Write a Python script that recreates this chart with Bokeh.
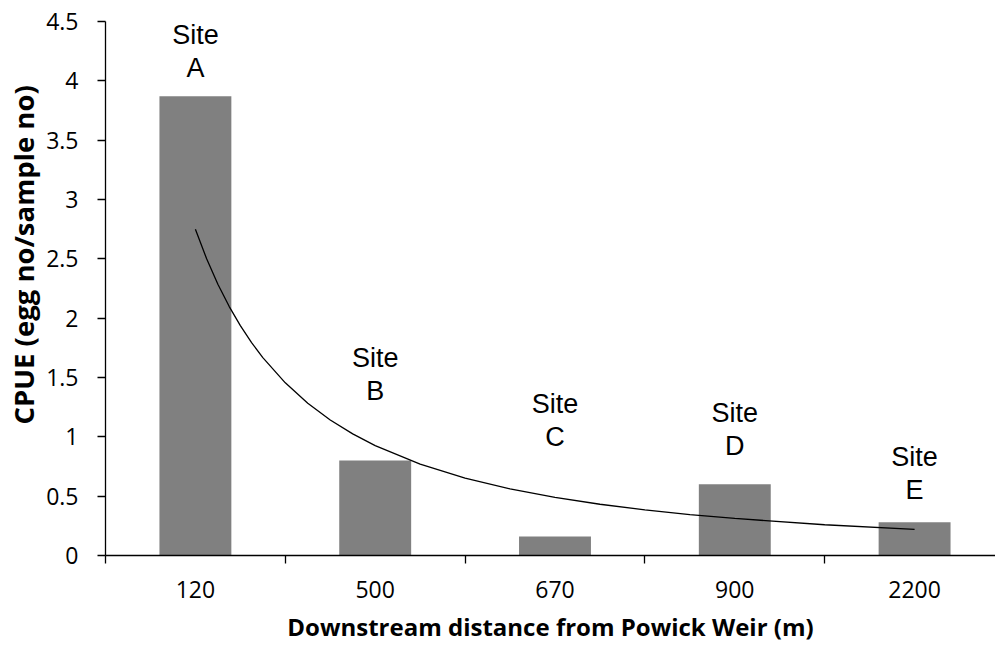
from bokeh.plotting import figure
from bokeh.models import Range1d, FixedTicker, Title
from bokeh.core.properties import value
from bokeh.embed import file_html
from bokeh.resources import INLINE

# ---- data ----
distances = ["120", "500", "670", "900", "2200"]
sites = ["A", "B", "C", "D", "E"]
cpue = [3.87, 0.80, 0.16, 0.60, 0.28]

# power trendline (x in category units, 1 = first bar)
trend_t = [1.0, 1.0625, 1.125, 1.1875, 1.25, 1.3125, 1.375, 1.5, 1.625, 1.75, 1.875,
           2.0, 2.25, 2.5, 2.75, 3.0, 3.25, 3.5, 3.75, 4.0, 4.5, 5.0]
trend_y = [2.75, 2.500, 2.286, 2.100, 1.937, 1.794, 1.668, 1.455, 1.283, 1.142, 1.025,
           0.926, 0.770, 0.653, 0.562, 0.490, 0.432, 0.385, 0.345, 0.312, 0.259, 0.220]

# vertical centre of the site letter in each label (hand-placed annotations)
label_y = [4.11, 1.39, 1.00, 0.925, 0.555]

yticks = [0, 0.5, 1, 1.5, 2, 2.5, 3, 3.5, 4, 4.5]

# ---- positions ----
xc = [i + 0.5 for i in range(len(distances))]
trend_x = [t - 0.5 for t in trend_t]

p = figure(width=995, height=645, output_backend="svg", toolbar_location=None,
           x_range=Range1d(0, 4.95), y_range=Range1d(0, 4.5),
           min_border_left=104, min_border_right=0, min_border_top=21, min_border_bottom=89)
p.outline_line_color = None
p.grid.grid_line_color = None
p.background_fill_color = "white"
p.border_fill_color = "white"

p.vbar(x=xc, top=cpue, width=0.4, fill_color="#808080", line_color=None)
p.line(trend_x, trend_y, line_color="black", line_width=1.3)

p.text(x=xc, y=label_y, text=sites, text_align="center", text_baseline="middle",
       text_font=value("Liberation Sans"), text_font_size="27px", text_color="black")
p.text(x=xc, y=label_y, text=["Site"] * len(sites), y_offset=-33, text_align="center",
       text_baseline="middle", text_font=value("Liberation Sans"), text_font_size="27px",
       text_color="black")

# x axis: labels at category centres, ticks at category boundaries
xa = p.xaxis[0]
xa.ticker = FixedTicker(ticks=xc, minor_ticks=list(range(len(distances) + 1)))
xa.major_label_overrides = {x: d for x, d in zip(xc, distances)}
xa.major_tick_out = 0
xa.major_tick_in = 0
xa.minor_tick_out = 8
xa.minor_tick_in = 0
xa.minor_tick_line_color = "black"
xa.major_label_standoff = 17
xa.axis_label = "Downstream distance from Powick Weir (m)"
xa.axis_label_standoff = 9
xa.axis_label_text_font = "Open Sans"
xa.axis_label_text_font_size = "24px"
xa.axis_label_text_font_style = "bold"
xa.axis_label_text_color = "black"

ya = p.yaxis[0]
ya.ticker = FixedTicker(ticks=yticks, minor_ticks=[])
ya.major_label_overrides = {t: ("%g" % t) for t in yticks}
ya.major_tick_out = 8
ya.major_tick_in = 0
ya.major_label_standoff = 19

for ax in (xa, ya):
    ax.axis_line_color = "black"
    ax.axis_line_width = 1.3
    ax.major_tick_line_color = "black"
    ax.major_tick_line_width = 1.3
    ax.minor_tick_line_width = 1.3
    ax.major_label_text_font = "Open Sans"
    ax.major_label_text_font_size = "23px"
    ax.major_label_text_color = "black"

# y axis title (sits above the frame's centre in the reference)
p.add_layout(Title(text="CPUE (egg no/sample no)", align="left", offset=131,
                   text_font="Open Sans", text_font_size="27.5px", text_font_style="bold",
                   text_color="black", standoff=4), "left")

open("out.html", "w").write(file_html(p, INLINE))
